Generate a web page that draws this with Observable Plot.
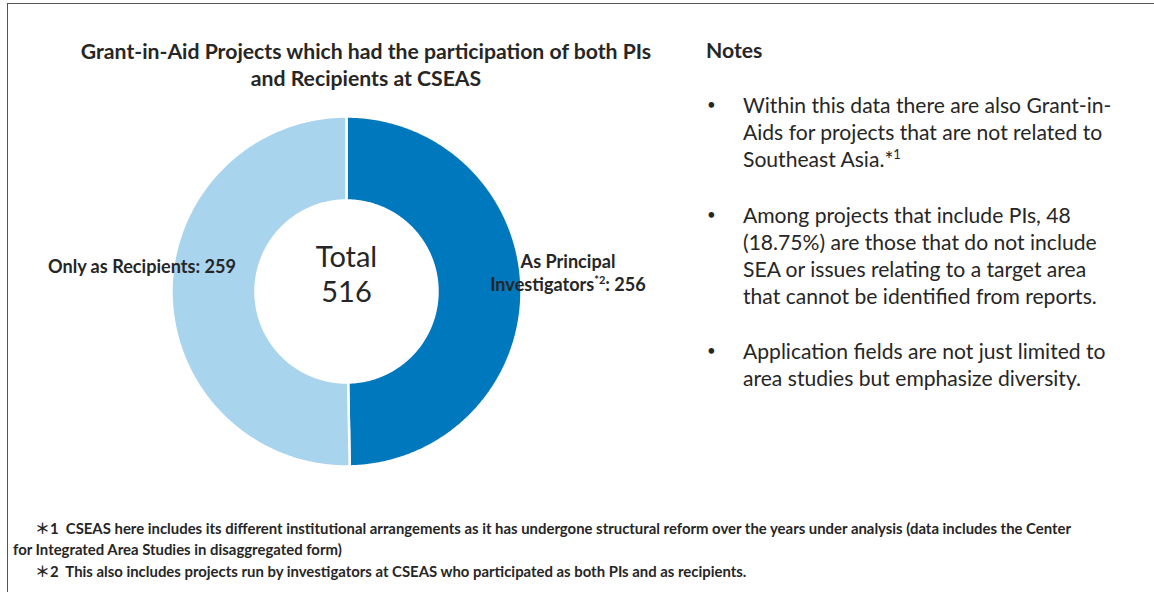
<!DOCTYPE html>
<html><head><meta charset="utf-8">
<script src="https://cdn.jsdelivr.net/npm/d3@7"></script>
<script src="https://cdn.jsdelivr.net/npm/@observablehq/plot@0.6"></script>
<style>
body{margin:0;width:1154px;height:592px;overflow:hidden;background:#fff;font-family:Lato,"Noto Sans",sans-serif;color:#262626;position:relative}
.frame{position:absolute;left:7px;top:3px;width:1200px;height:700px;border-left:1px solid #555;border-top:1px solid #555}
.abs{position:absolute;white-space:nowrap}
#title{left:0;width:732px;top:38px;text-align:center;font-weight:700;font-size:21.2px;line-height:27px}
#notesHead{left:706px;top:37px;font-weight:700;font-size:21.2px;line-height:27px}
.note{position:absolute;left:743px;font-size:21.1px;line-height:27px;white-space:nowrap}
.note::before{content:"•";position:absolute;left:-36px;font-size:15px}
.note sup{font-size:13px;vertical-align:baseline;position:relative;top:-8px;line-height:0}
.lab{position:absolute;font-weight:700;font-size:18.1px;line-height:23px;white-space:nowrap}
.lab sup{font-size:11px;vertical-align:baseline;position:relative;top:-7px;line-height:0}
#foot{position:absolute;left:13px;top:517px;font-weight:700;font-size:14.9px;line-height:21px}
#foot div{white-space:nowrap}
.ast{font-family:"Noto Sans CJK JP",sans-serif;font-weight:700}
#chart{position:absolute;left:0;top:101px}
</style></head>
<body>
<div class="frame"></div>
<div id="title" class="abs"></div>
<div id="notesHead" class="abs"></div>
<div id="notes"></div>
<div id="chart"></div>
<div id="labels"></div>
<div id="foot"></div>
<script>
// ---- data ----
const categories = ["As Principal Investigators", "Only as Recipients"];
const values = [256, 259];
const colors = ["#0078BE", "#A8D4EE"];
const totalLabel = "Total";
const totalValue = 516;
const titleLines = ["Grant-in-Aid Projects which had the participation of both PIs", "and Recipients at CSEAS"];
const notesTitle = "Notes";
const notes = [
  ["Within this data there are also Grant-in-", "Aids for projects that are not related to", "Southeast Asia.*<sup>1</sup>"],
  ["Among projects that include PIs, 48", "(18.75%) are those that do not include", "SEA or issues relating to a target area", "that cannot be identified from reports."],
  ["Application fields are not just limited to", "area studies but emphasize diversity."]
];
const footnotes = [
  "<span style='margin-left:22px'><span class='ast'>＊</span>1&nbsp; CSEAS here includes its different institutional arrangements as it has undergone structural reform over the years under analysis (data includes the Center</span>",
  "for Integrated Area Studies in disaggregated form)",
  "<span style='margin-left:22px'><span class='ast'>＊</span>2&nbsp; This also includes projects run by investigators at CSEAS who participated as both PIs and as recipients.</span>"
];

// ---- text ----
document.getElementById("title").innerHTML = titleLines.join("<br>");
document.getElementById("notesHead").textContent = notesTitle;
const noteTops = [91, 201, 337];
const notesDiv = document.getElementById("notes");
notes.forEach((lines, i) => {
  const d = document.createElement("div");
  d.className = "note";
  d.style.top = noteTops[i] + "px";
  d.innerHTML = lines.join("<br>");
  notesDiv.appendChild(d);
});
document.getElementById("foot").innerHTML = footnotes.map(f => `<div>${f}</div>`).join("");

// ---- donut geometry from values ----
const arcs = d3.pie().sort(null).value(d => d.value)(categories.map((c, i) => ({cat: c, value: values[i]})));
const rOuter = 1, rInner = 0.52;
const pts = [];
for (const a of arcs) {
  const n = Math.max(2, Math.ceil((a.endAngle - a.startAngle) / 0.01));
  for (let k = 0; k <= n; k++) {
    const t = a.startAngle + (a.endAngle - a.startAngle) * k / n;
    pts.push({cat: a.data.cat, x: rOuter * Math.sin(t), y: rOuter * Math.cos(t)});
  }
  for (let k = n; k >= 0; k--) {
    const t = a.startAngle + (a.endAngle - a.startAngle) * k / n;
    pts.push({cat: a.data.cat, x: rInner * Math.sin(t), y: rInner * Math.cos(t)});
  }
}

const plot = Plot.plot({
  width: 700, height: 380, margin: 0,
  x: {domain: [-1, 1], range: [171, 521], axis: null},
  y: {domain: [-1, 1], range: [365, 15], axis: null},
  color: {domain: categories, range: colors},
  style: {background: "transparent", fontFamily: "Lato, 'Noto Sans', sans-serif"},
  marks: [
    Plot.line(pts, {x: "x", y: "y", z: "cat", fill: "cat", stroke: "white", strokeWidth: 2.5, curve: "linear-closed"}),
    Plot.text([totalValue], {x: () => 0, y: () => 0, text: d => `${totalLabel}\n${d}`, dy: 10, lineAnchor: "bottom", lineHeight: 35 / 29, fontSize: 29, fill: "#262626"})
  ]
});
document.getElementById("chart").appendChild(plot);

// ---- slice labels ----
const labels = document.getElementById("labels");
const l1 = document.createElement("div");
l1.className = "lab";
l1.style.cssText = "right:918px;top:255px;text-align:right";
l1.textContent = `Only as Recipients: ${values[1]}`;
labels.appendChild(l1);
const l2 = document.createElement("div");
l2.className = "lab";
l2.style.cssText = "left:468px;width:200px;top:250px;text-align:center";
l2.innerHTML = `As Principal<br>Investigators<sup>*2</sup>: ${values[0]}`;
labels.appendChild(l2);
</script>
</body></html>
